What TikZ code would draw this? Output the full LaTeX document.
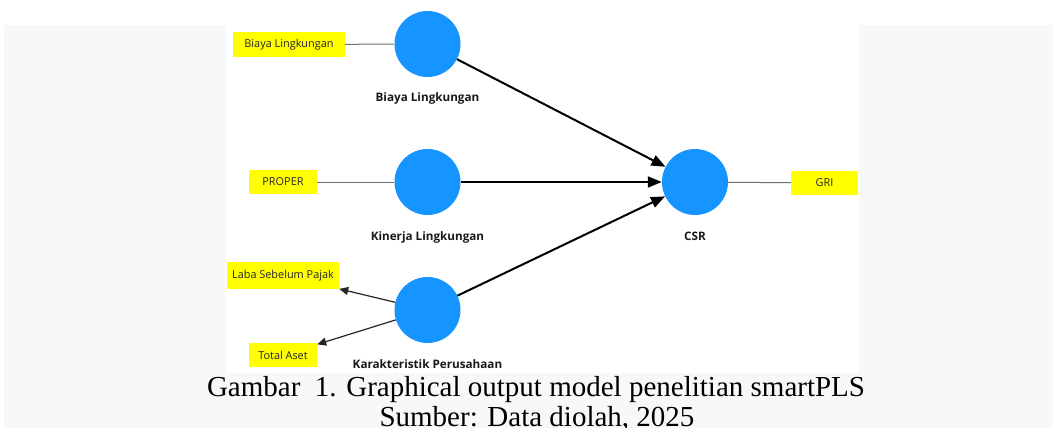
\documentclass[tikz,border=0pt]{standalone}
\usepackage{fontspec}
\setmainfont{Liberation Serif}
\newfontfamily\plsfont{Open Sans}
\usetikzlibrary{arrows.meta}
\definecolor{plsblue}{RGB}{22,148,255}
\definecolor{plsyellow}{RGB}{255,255,0}
\definecolor{panelgray}{RGB}{247,248,250}
\definecolor{indgray}{RGB}{110,110,110}
\tikzset{
  construct/.style={circle, fill=plsblue, minimum size=66pt, inner sep=0pt},
  indicator/.style={rectangle, fill=plsyellow, inner sep=0pt, font=\plsfont\fontsize{10.9}{12}\selectfont, text=black!85},
  clabel/.style={font=\plsfont\bfseries\fontsize{11.7}{13}\selectfont, anchor=base, text=black!90},
  indline/.style={draw=indgray, line width=1pt},
  pathline/.style={draw=black, line width=2pt, -{Triangle[length=14pt,width=11pt]}},
  outline/.style={draw=black!85, line width=1.2pt, -{Triangle[length=9pt,width=8pt]}},
  caption/.style={font=\fontsize{29}{31}\selectfont, anchor=base, inner sep=0pt}
}
\begin{document}
\begin{tikzpicture}[x=1pt,y=-1pt]
\useasboundingbox (0,0) rectangle (1053,428);
\fill[white] (0,0) rectangle (1053,428);
\fill[panelgray] (4,25) rectangle (226,373);
\fill[panelgray] (859,25) rectangle (1053,373);
\fill[panelgray] (4,373) rectangle (1053,428);

% constructs
\node[construct] (bl) at (427.5,44) {};
\node[construct] (kl) at (427.5,182) {};
\node[construct] (kp) at (427.5,310) {};
\node[construct] (csr) at (695,182) {};

\node[clabel] (blL) at (427.5,102) {Biaya Lingkungan};
\node[clabel] (klL) at (427.5,240) {Kinerja Lingkungan};
\node[clabel] (kpL) at (427.5,368) {Karakteristik Perusahaan};
\node[clabel] (csrL) at (695,240) {CSR};

% indicators
\node[indicator, minimum width=112pt, minimum height=25pt] (i1) at (289,44.5) {Biaya Lingkungan};
\node[indicator, minimum width=68pt, minimum height=24pt] (i2) at (283,182) {PROPER};
\node[indicator, minimum width=112pt, minimum height=27pt] (i3) at (283,275.5) {Laba Sebelum Pajak};
\node[indicator, minimum width=68pt, minimum height=24pt] (i4) at (283,355) {Total Aset};
\node[indicator, minimum width=67pt, minimum height=24pt] (i5) at (824.5,183) {GRI};

% connectors
\draw[indline] (i1) -- (bl);
\draw[indline] (i2) -- (kl);
\draw[indline] (csr) -- (i5);
\draw[outline] (kp) -- (i3);
\draw[outline] (kp) -- (i4);
\draw[pathline] (bl) -- (csr);
\draw[pathline] (kl) -- (csr);
\draw[pathline] (kp) -- (csr);

% caption
\node[caption] (cap1) at (536,396) {Gambar\ \ 1. Graphical output model penelitian smartPLS};
\node[caption] (cap2) at (537,426) {Sumber: Data diolah, 2025};
\end{tikzpicture}
\end{document}
